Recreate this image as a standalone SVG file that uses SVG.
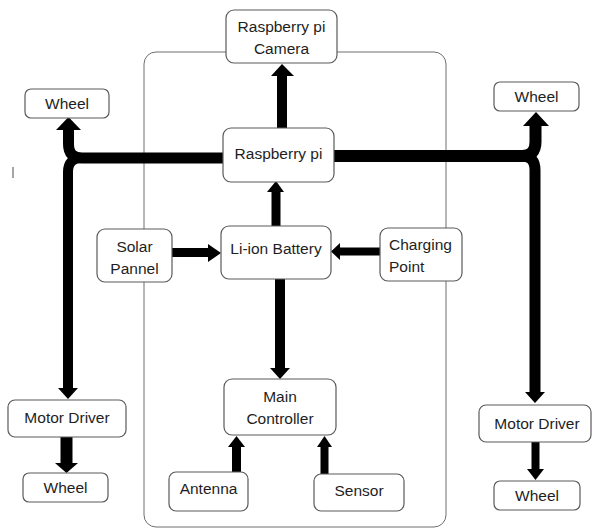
<svg xmlns="http://www.w3.org/2000/svg" width="592" height="528" viewBox="0 0 592 528">
<style>
.box{fill:#fff;stroke:#5a5a5a;stroke-width:1.2}
.t{font-family:"Liberation Sans",Arial,sans-serif;font-size:15.5px;fill:#1e1e1e;text-anchor:middle}
.tl{text-anchor:start}
.w{fill:none;stroke:#000;stroke-linejoin:round}
.h{fill:#000}
</style>
<rect id="container" x="144" y="52" width="302" height="475" rx="12" fill="none" stroke="#6e6e6e" stroke-width="1"/>
<line x1="13" y1="167" x2="13" y2="178" stroke="#888" stroke-width="1.5"/>
<g id="connectors">
  <path class="w" stroke-width="10" d="M282,128 V75"/>
  <polygon class="h" points="271,76 294,76 282,64"/>
  <path class="w" stroke-width="9" d="M276,226 V191"/>
  <polygon class="h" points="267,192 284,192 276,181"/>
  <path class="w" stroke-width="10" d="M280,279 V369"/>
  <polygon class="h" points="270,368 290,368 280,379"/>
  <path class="w" stroke-width="9" d="M172,252.5 H209"/>
  <polygon class="h" points="208,244 208,262 221,253"/>
  <path class="w" stroke-width="8" d="M380,251.5 H339"/>
  <polygon class="h" points="340,243 340,260 331,251.5"/>
  <path class="w" stroke-width="9" d="M236.5,472 V446"/>
  <polygon class="h" points="228,447 245,447 236.5,436"/>
  <path class="w" stroke-width="8" d="M324.5,474 V446"/>
  <polygon class="h" points="317,447 332,447 324.5,436"/>
  <path class="w" stroke-width="11" d="M223,158 H82 Q68.5,158 68.5,144 V129"/>
  <polygon class="h" points="56,130 81,130 68.5,117"/>
  <path class="w" stroke-width="10" d="M223,158 H82 Q68,158 68,172 V389"/>
  <polygon class="h" points="58,388 78,388 68,399"/>
  <path class="w" stroke-width="12" d="M334,156 H522 Q535.5,156 535.5,142 V125"/>
  <polygon class="h" points="523,126 549,126 536,112"/>
  <path class="w" stroke-width="11" d="M334,156 H522 Q535,156 535,170 V393"/>
  <polygon class="h" points="525,392 545,392 535,403"/>
  <path class="w" stroke-width="12" d="M66.5,437 V464"/>
  <polygon class="h" points="55,463 78,463 66.5,473"/>
  <path class="w" stroke-width="8" d="M535.5,442 V470"/>
  <polygon class="h" points="527,469 544,469 535.5,480"/>
</g>
<g id="camera"><rect class="box" x="226" y="10" width="111" height="53" rx="8"/><text class="t" x="281.5" y="32">Raspberry pi</text><text class="t" x="281.5" y="54">Camera</text></g>
<g id="raspberry"><rect class="box" x="223" y="128" width="111" height="54" rx="8"/><text class="t" x="278.5" y="159">Raspberry pi</text></g>
<g id="wheel-tl"><rect class="box" x="25" y="89" width="84" height="29" rx="6"/><text class="t" x="67" y="109">Wheel</text></g>
<g id="wheel-tr"><rect class="box" x="494" y="82" width="85" height="29" rx="6"/><text class="t" x="536.5" y="102">Wheel</text></g>
<g id="solar"><rect class="box" x="97" y="229" width="75" height="53" rx="8"/><text class="t" x="134.5" y="252">Solar</text><text class="t" x="134.5" y="274">Pannel</text></g>
<g id="battery"><rect class="box" x="221" y="226" width="110" height="53" rx="8"/><text class="t" x="276" y="254">Li-ion Battery</text></g>
<g id="charging"><rect class="box" x="380" y="228" width="82" height="53" rx="8"/><text class="t tl" x="389" y="250">Charging</text><text class="t tl" x="389" y="272">Point</text></g>
<g id="controller"><rect class="box" x="224" y="379" width="112" height="56" rx="8"/><text class="t" x="280" y="402">Main</text><text class="t" x="280" y="424">Controller</text></g>
<g id="motor-l"><rect class="box" x="8" y="400" width="118" height="37" rx="7"/><text class="t" x="67" y="423">Motor Driver</text></g>
<g id="wheel-bl"><rect class="box" x="23" y="473" width="85" height="29" rx="6"/><text class="t" x="65.5" y="493">Wheel</text></g>
<g id="antenna"><rect class="box" x="169" y="472" width="79" height="39" rx="7"/><text class="t" x="208.5" y="494">Antenna</text></g>
<g id="sensor"><rect class="box" x="314" y="474" width="90" height="37" rx="7"/><text class="t" x="359" y="496">Sensor</text></g>
<g id="motor-r"><rect class="box" x="479" y="405" width="112" height="37" rx="7"/><text class="t" x="537" y="429">Motor Driver</text></g>
<g id="wheel-br"><rect class="box" x="494" y="481" width="86" height="29" rx="6"/><text class="t" x="537" y="501">Wheel</text></g>
</svg>
